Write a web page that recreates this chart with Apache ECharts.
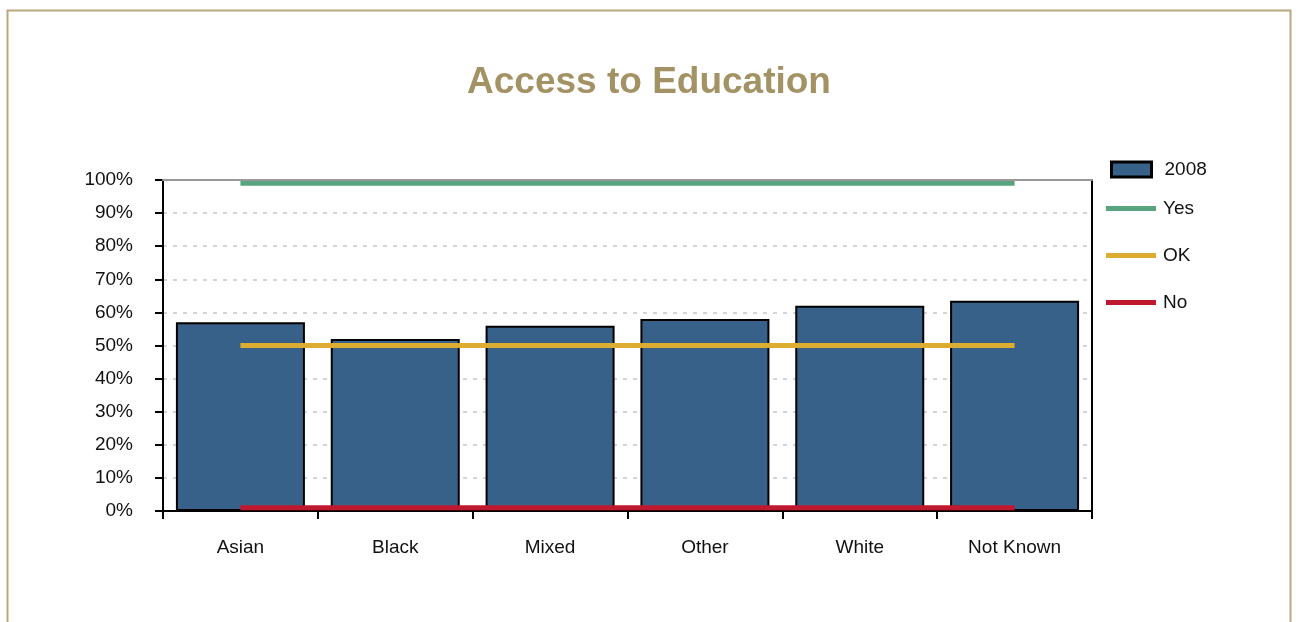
<!DOCTYPE html>
<html>
<head>
<meta charset="utf-8">
<style>
html,body{margin:0;padding:0;background:#fff;}
#chart{width:1298px;height:622px;}
</style>
<script src="https://cdn.jsdelivr.net/npm/echarts@6/dist/echarts.min.js"></script>
</head>
<body>
<div id="chart"></div>
<script>
const categories = ['Asian', 'Black', 'Mixed', 'Other', 'White', 'Not Known'];
const values2008 = [57, 52, 56, 58, 62, 63.5];
const yesLine = [99, 99, 99, 99, 99, 99];
const okLine = [50, 50, 50, 50, 50, 50];
const noLine = [1, 1, 1, 1, 1, 1];

const FONT = '"Liberation Sans", Arial, Helvetica, sans-serif';
const chart = echarts.init(document.getElementById('chart'), null, {renderer: 'canvas'});

chart.setOption({
  animation: false,
  backgroundColor: '#fff',
  textStyle: {fontFamily: FONT},
  title: {
    text: 'Access to Education',
    left: 'center',
    top: 59,
    textStyle: {fontFamily: FONT, fontSize: 37, fontWeight: 'bold', color: '#a39263'}
  },
  graphic: [{
    type: 'rect',
    silent: true,
    z: -10,
    shape: {x: 7.5, y: 10.5, width: 1283, height: 700},
    style: {fill: 'none', stroke: '#b8a87c', lineWidth: 2}
  }],
  legend: [{
    data: [{name: '2008', icon: 'rect', itemStyle: {borderColor: '#000', borderWidth: 3}}],
    orient: 'vertical',
    left: 1105,
    top: 155,
    itemWidth: 40,
    itemHeight: 15,
    textStyle: {fontFamily: FONT, fontSize: 19, color: '#111', padding: [0, 0, 0, 8]}
  }, {
    data: [{name: 'Yes', icon: 'rect'}, {name: 'OK', icon: 'rect'}, {name: 'No', icon: 'rect'}],
    orient: 'vertical',
    left: 1101,
    top: 194,
    itemWidth: 50,
    itemHeight: 5,
    itemGap: 28,
    textStyle: {fontFamily: FONT, fontSize: 19, color: '#111', padding: [0, 0, 0, 2]}
  }],
  grid: {left: 163, right: 206, top: 180, bottom: 111, containLabel: false},
  xAxis: [{
    type: 'category',
    data: categories,
    boundaryGap: true,
    position: 'bottom',
    axisLine: {show: true, onZero: false, lineStyle: {color: '#000', width: 2}},
    axisTick: {show: true, inside: false, length: 8, lineStyle: {color: '#000', width: 2}},
    axisLabel: {fontFamily: FONT, fontSize: 19, color: '#111', margin: 27},
    splitLine: {show: false}
  }, {
    type: 'category',
    data: categories,
    position: 'top',
    axisLine: {show: true, onZero: false, lineStyle: {color: '#999', width: 2}},
    axisTick: {show: false},
    axisLabel: {show: false},
    splitLine: {show: false},
    z: 10
  }],
  yAxis: [{
    type: 'value',
    min: 0,
    max: 100,
    interval: 10,
    position: 'left',
    axisLine: {show: true, lineStyle: {color: '#000', width: 2}},
    axisTick: {show: true, inside: false, length: 8, lineStyle: {color: '#000', width: 2}},
    axisLabel: {fontFamily: FONT, fontSize: 19, color: '#111', margin: 30, formatter: v => v + '%'},
    splitLine: {show: true, lineStyle: {color: '#c8c8c8', width: 1.5, type: [4, 6]}}
  }, {
    type: 'value',
    min: 0,
    max: 100,
    interval: 10,
    position: 'right',
    axisLine: {show: true, lineStyle: {color: '#000', width: 2}},
    axisTick: {show: false},
    axisLabel: {show: false},
    splitLine: {show: false}
  }],
  series: [{
    name: '2008',
    type: 'bar',
    data: values2008,
    barWidth: 129,
    itemStyle: {color: '#386189', borderColor: '#000', borderWidth: 2},
    z: 2
  }, {
    name: 'Yes',
    type: 'line',
    data: yesLine,
    symbol: 'none',
    lineStyle: {color: '#58a47e', width: 5},
    itemStyle: {color: '#58a47e'},
    z: 5
  }, {
    name: 'OK',
    type: 'line',
    data: okLine,
    symbol: 'none',
    lineStyle: {color: '#dcad30', width: 5},
    itemStyle: {color: '#dcad30'},
    z: 5
  }, {
    name: 'No',
    type: 'line',
    data: noLine,
    symbol: 'none',
    lineStyle: {color: '#c0182f', width: 5},
    itemStyle: {color: '#c0182f'},
    z: 5
  }]
});
</script>
</body>
</html>
